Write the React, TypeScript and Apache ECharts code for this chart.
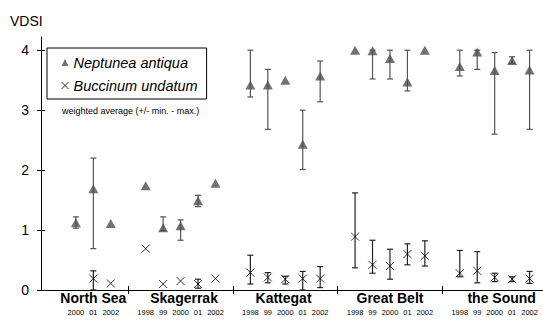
import React, { useEffect, useRef } from "react";
import * as echarts from "echarts";

// Regions (x groups) and survey years (slots inside each group)
const regions = ["North Sea", "Skagerrak", "Kattegat", "Great Belt", "the Sound"];
const years = ["1998", "99", "2000", "01", "2002"];

// Neptunea antiqua: weighted average VDSI with min / max per region and year
const neptuneaMean: (number | null)[][] = [
  [null, null, 1.12, 1.69, 1.11],
  [1.74, 1.04, 1.07, 1.49, 1.78],
  [3.42, 3.42, 3.5, 2.43, 3.57],
  [4.0, 3.99, 3.86, 3.47, 4.0],
  [3.73, 3.97, 3.66, 3.83, 3.67],
];
const neptuneaMin: (number | null)[][] = [
  [null, null, 1.03, 0.69, null],
  [null, 0.99, 0.83, 1.39, null],
  [3.22, 2.68, null, 2.01, 3.14],
  [null, 3.52, 3.52, 3.32, null],
  [3.57, 3.68, 2.6, 3.78, 2.68],
];
const neptuneaMax: (number | null)[][] = [
  [null, null, 1.22, 2.2, null],
  [null, 1.22, 1.17, 1.58, null],
  [4.0, 3.68, null, 3.0, 3.82],
  [null, 4.0, 4.0, 4.0, null],
  [4.0, 4.0, 3.96, 3.89, 4.0],
];

// Buccinum undatum: weighted average VDSI with min / max per region and year
const buccinumMean: (number | null)[][] = [
  [null, null, null, 0.19, 0.11],
  [0.69, 0.1, 0.15, 0.1, 0.19],
  [0.29, 0.21, 0.18, 0.19, 0.19],
  [0.89, 0.42, 0.4, 0.6, 0.57],
  [0.28, 0.32, 0.21, 0.18, 0.19],
];
const buccinumMin: (number | null)[][] = [
  [null, null, null, 0.0, null],
  [null, null, null, 0.03, null],
  [0.1, 0.12, 0.1, 0.0, 0.04],
  [0.37, 0.28, 0.18, 0.42, 0.4],
  [0.22, 0.12, 0.14, 0.14, 0.11],
];
const buccinumMax: (number | null)[][] = [
  [null, null, null, 0.32, null],
  [null, null, null, 0.18, null],
  [0.58, 0.29, 0.23, 0.31, 0.39],
  [1.62, 0.83, 0.68, 0.77, 0.82],
  [0.66, 0.64, 0.28, 0.22, 0.31],
];

const yTicks = [0, 1, 2, 3, 4];

const FONT = "'Liberation Sans', Arial, Helvetica, sans-serif";
const CROSS = "path://M0,0L8,8M8,0L0,8";

// Each region spans 6 x-units; the five years sit at offsets 1..5.
const GROUP = 6;
const slotX = (g: number, i: number) => GROUP * g + 1 + i;
const boundaries = regions.slice(1).map((_, g) => GROUP * (g + 1));
const regionLabelX = [4, 9.2, 14.9, 21, 27.4];

function points(mean: (number | null)[][]) {
  const out: number[][] = [];
  mean.forEach((row, g) =>
    row.forEach((v, i) => {
      if (v != null) out.push([slotX(g, i), v]);
    })
  );
  return out;
}

function ranges(lo: (number | null)[][], hi: (number | null)[][]) {
  const out: number[][] = [];
  lo.forEach((row, g) =>
    row.forEach((l, i) => {
      const h = hi[g][i];
      if (l != null && h != null) out.push([slotX(g, i), l, h]);
    })
  );
  return out;
}

// Year slots that carry at least one observation get a year label
const yearSlots: number[] = [];
regions.forEach((_, g) =>
  years.forEach((_, i) => {
    if (neptuneaMean[g][i] != null || buccinumMean[g][i] != null) yearSlots.push(slotX(g, i));
  })
);

function errorBar(color: string) {
  return (params: any, api: any) => {
    const x = api.value(0);
    const lo = api.coord([x, api.value(1)]);
    const hi = api.coord([x, api.value(2)]);
    const w = 3;
    const style = { stroke: color, lineWidth: 1.2 };
    return {
      type: "group",
      children: [
        { type: "line", shape: { x1: lo[0], y1: lo[1], x2: hi[0], y2: hi[1] }, style },
        { type: "line", shape: { x1: lo[0] - w, y1: lo[1], x2: lo[0] + w, y2: lo[1] }, style },
        { type: "line", shape: { x1: hi[0] - w, y1: hi[1], x2: hi[0] + w, y2: hi[1] }, style },
      ],
    };
  };
}

export default function App() {
  const ref = useRef<HTMLDivElement>(null);

  useEffect(() => {
    if (!ref.current) return;
    const chart = echarts.init(ref.current, undefined, { renderer: "svg" });
    const xMin = 1;
    const xMax = 29.77;
    const yMax = 4.22;

    chart.setOption({
      animation: false,
      backgroundColor: "#fff",
      title: {
        text: "VDSI",
        left: 10,
        top: 14,
        padding: 0,
        textStyle: { fontFamily: FONT, fontSize: 14, fontWeight: "normal", color: "#000" },
      },
      legend: {
        left: 47,
        top: 48,
        orient: "vertical",
        borderColor: "#000",
        borderWidth: 1,
        padding: [7, 9, 6, 12],
        itemWidth: 7,
        itemHeight: 7,
        itemGap: 8,
        selectedMode: false,
        textStyle: { fontFamily: FONT, fontSize: 14.5, fontStyle: "italic", color: "#000" },
        data: [
          { name: "Neptunea antiqua", icon: "triangle", itemStyle: { color: "#4d4d4d" } },
          {
            name: "Buccinum undatum",
            icon: CROSS,
            itemStyle: { color: "none", borderColor: "#000", borderWidth: 1 },
          },
        ],
      },
      graphic: [
        {
          type: "text",
          left: 62,
          top: 106,
          style: {
            text: "weighted average (+/- min. - max.)",
            font: `9px ${FONT}`,
            fill: "#000",
          },
        },
      ],
      grid: { left: 41, right: 0, top: 37, bottom: 30 },
      xAxis: [
        {
          type: "value",
          min: xMin,
          max: xMax,
          splitLine: { show: false },
          axisLine: { lineStyle: { color: "#000", width: 1 } },
          axisTick: { customValues: boundaries, length: 4, lineStyle: { color: "#000" } },
          axisLabel: {
            customValues: regionLabelX,
            margin: 1,
            fontFamily: FONT,
            fontSize: 14,
            fontWeight: "bold",
            color: "#000",
            formatter: (v: number) => {
              const k = regionLabelX.findIndex((p) => Math.abs(p - v) < 1e-6);
              return k >= 0 ? regions[k] : "";
            },
          },
        },
        {
          type: "value",
          position: "bottom",
          min: xMin,
          max: xMax,
          splitLine: { show: false },
          axisLine: { show: false },
          axisTick: { customValues: boundaries, inside: true, length: 4, lineStyle: { color: "#000" } },
          axisLabel: {
            customValues: yearSlots,
            margin: 18,
            fontFamily: FONT,
            fontSize: 7.5,
            color: "#000",
            formatter: (v: number) => years[Math.round(v - 1) % GROUP] ?? "",
          },
        },
      ],
      yAxis: [
        {
          type: "value",
          min: 0,
          max: yMax,
          splitLine: { show: false },
          axisLine: { show: true, lineStyle: { color: "#000", width: 1 } },
          axisTick: { show: true, customValues: yTicks, length: 4, lineStyle: { color: "#000" } },
          axisLabel: {
            customValues: yTicks,
            margin: 12,
            fontFamily: FONT,
            fontSize: 14,
            color: "#000",
          },
        },
        {
          type: "value",
          position: "left",
          min: 0,
          max: yMax,
          splitLine: { show: false },
          axisLine: { show: false },
          axisTick: { show: true, inside: true, customValues: yTicks, length: 4, lineStyle: { color: "#000" } },
          axisLabel: { show: false },
        },
      ],
      series: [
        {
          type: "custom",
          name: "Neptunea range",
          silent: true,
          z: 2,
          renderItem: errorBar("#555"),
          encode: { x: 0, y: [1, 2] },
          data: ranges(neptuneaMin, neptuneaMax),
        },
        {
          type: "custom",
          name: "Buccinum range",
          silent: true,
          z: 2,
          renderItem: errorBar("#222"),
          encode: { x: 0, y: [1, 2] },
          data: ranges(buccinumMin, buccinumMax),
        },
        {
          type: "scatter",
          name: "Neptunea antiqua",
          symbol: "triangle",
          symbolSize: [10, 9],
          z: 3,
          itemStyle: { color: "#4d4d4d" },
          data: points(neptuneaMean),
        },
        {
          type: "scatter",
          name: "Buccinum undatum",
          symbol: CROSS,
          symbolSize: 8,
          z: 3,
          itemStyle: { color: "none", borderColor: "#000", borderWidth: 1 },
          data: points(buccinumMean),
        },
      ],
    });

    return () => chart.dispose();
  }, []);

  return (
    <div
      ref={ref}
      style={{ position: "fixed", left: 0, top: 0, width: 543, height: 320, background: "#fff" }}
    />
  );
}
